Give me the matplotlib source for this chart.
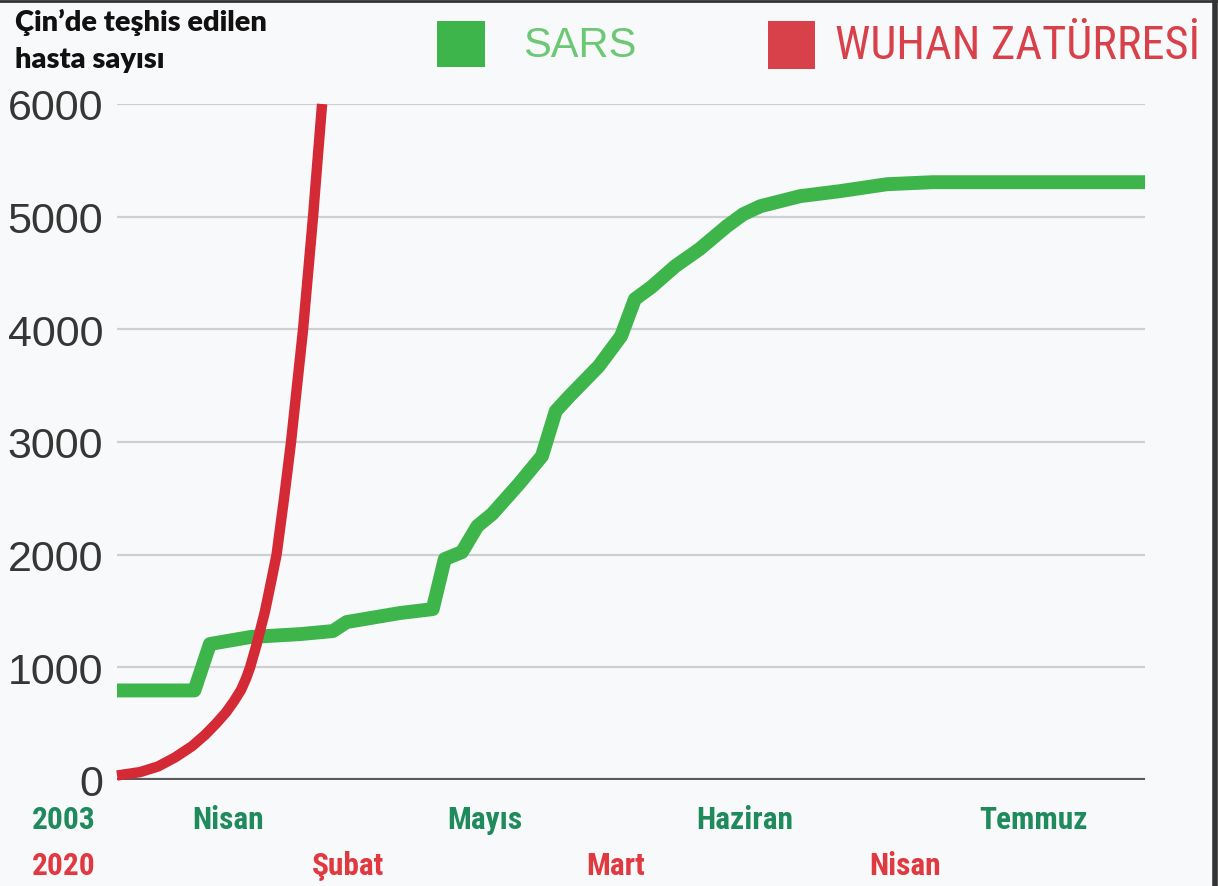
import matplotlib
matplotlib.use("Agg")
import matplotlib.pyplot as plt
from matplotlib.lines import Line2D
from matplotlib.patches import Rectangle
from matplotlib import font_manager as fm

# ---------------- data ----------------
sars_days = [0.0, 9.0, 10.8, 15.5, 21.3, 25.1, 26.7, 32.9, 36.7, 38.1, 40.1,
             41.9, 43.6, 46.7, 49.4, 51.0, 52.6, 56.0, 58.6, 60.2, 62.1, 64.9,
             67.7, 70.9, 72.8, 74.8, 79.4, 84.0, 89.5, 94.8, 102.6, 119.5]
sars_cases = [795, 795, 1207, 1269, 1295, 1322, 1402, 1482, 1517, 1961, 2023,
              2254, 2360, 2626, 2875, 3274, 3407, 3673, 3940, 4268, 4374, 4561,
              4711, 4916, 5022, 5093, 5182, 5226, 5288, 5306, 5306, 5306]

wuhan_days = [0.0, 2.67, 4.77, 6.74, 8.72, 10.23, 11.51, 12.67, 13.6, 14.42,
              15.0, 15.47, 16.22, 17.21, 18.02, 18.55, 19.42, 20.23, 20.93,
              21.63, 22.21, 22.79, 23.31, 23.84]
wuhan_cases = [40, 70, 120, 200, 300, 400, 500, 600, 700, 800,
               900, 1000, 1200, 1500, 1800, 2000, 2500, 3000, 3500,
               4000, 4500, 5000, 5500, 6000]

y_ticks = [0, 1000, 2000, 3000, 4000, 5000, 6000]

sars_tick_pos = [-6.2, 12.9, 42.8, 73.0, 106.5]
sars_tick_labels = ["2003", "Nisan", "Mayıs", "Haziran", "Temmuz"]
wuhan_tick_pos = [-6.2, 26.8, 58.0, 91.6]
wuhan_tick_labels = ["2020", "Şubat", "Mart", "Nisan"]

title_lines = ["Çin’de teşhis edilen", "hasta sayısı"]
legend_labels = ["SARS", "WUHAN ZATÜRRESİ"]

# ---------------- style ----------------
GREEN = "#3db54a"
RED = "#d42a36"
GREEN_TXT = "#1f8a5c"
RED_TXT = "#e0393f"
BG = "#f8f9fb"

names = {f.name for f in fm.fontManager.ttflist}


def pick(*cands):
    for c in cands:
        if c in names:
            return c
    return "DejaVu Sans"


narrow = pick("Roboto Condensed", "Liberation Sans Narrow", "Roboto")
helv = pick("Liberation Sans", "Roboto")
title_font = pick("Lato", "Roboto")

W, H = 1218, 887
fig = plt.figure(figsize=(W / 100, H / 100), dpi=100, facecolor=BG)
renderer = fig.canvas.get_renderer()


def fit(txt, width_px):
    bb = txt.get_window_extent(renderer=renderer)
    txt.set_fontsize(txt.get_fontsize() * width_px / bb.width)
    return txt.get_fontsize()


x0, x1 = 117, 1145
y0, y1 = 781, 105
ax = fig.add_axes([x0 / W, (H - y0) / H, (x1 - x0) / W, (y0 - y1) / H])
ax.set_facecolor(BG)
ax.set_xlim(0, 119.5)
ax.set_ylim(0, 6000)

for v in y_ticks[1:]:
    ax.axhline(v, color="#cfcfd2", lw=1.6, zorder=1)
ax.axhline(0, color="#5a5a5a", lw=3.0, zorder=1)

ax.plot(sars_days, sars_cases, color=GREEN, lw=10, solid_capstyle="butt",
        solid_joinstyle="round", zorder=3, clip_on=False)
ax.plot(wuhan_days, wuhan_cases, color=RED, lw=7.5, solid_capstyle="butt",
        solid_joinstyle="round", zorder=4, clip_on=False)

for s in ax.spines.values():
    s.set_visible(False)
ax.set_xticks([])
ax.set_yticks(y_ticks)
ax.set_yticklabels([str(v) for v in y_ticks], fontsize=31, color="#363636",
                   family=helv)
ax.tick_params(axis="y", length=0, pad=10)

# month labels: one common size, fitted on "Haziran"
trans = ax.get_xaxis_transform()
probe = ax.text(0, 0, "Haziran", fontsize=20, fontweight="bold", family=narrow)
lab_size = fit(probe, 97)
probe.remove()
for p, lab in zip(sars_tick_pos, sars_tick_labels):
    ax.text(p, -0.058, lab, transform=trans, ha="center", va="center",
            fontsize=lab_size, fontweight="bold", color=GREEN_TXT, family=narrow,
            clip_on=False)
for p, lab in zip(wuhan_tick_pos, wuhan_tick_labels):
    ax.text(p, -0.126, lab, transform=trans, ha="center", va="center",
            fontsize=lab_size, fontweight="bold", color=RED_TXT, family=narrow,
            clip_on=False)

# title
t1 = fig.text(15 / W, 1 - 22 / H, title_lines[0], ha="left", va="center",
              fontsize=20, fontweight="heavy", color="#111111", family=title_font)
fit(t1, 253)
t2 = fig.text(15 / W, 1 - 60 / H, title_lines[1], ha="left", va="center",
              fontsize=t1.get_fontsize(), fontweight="heavy", color="#111111",
              family=title_font)

# legend
fig.add_artist(Rectangle((437 / W, 1 - 68 / H), 48 / W, 46 / H,
                         transform=fig.transFigure, color=GREEN, lw=0))
fig.text(523 / W, 1 - 46 / H, legend_labels[0], ha="left", va="center",
         fontsize=30, color="#6cc874", family=helv)
fig.add_artist(Rectangle((768 / W, 1 - 70 / H), 47 / W, 48 / H,
                         transform=fig.transFigure, color="#d8414a", lw=0))
tw = fig.text(835 / W, 1 - 46 / H, legend_labels[1], ha="left", va="center",
              fontsize=30, color="#d8414a", family=narrow)
fit(tw, 365)

# frame edges of the scan
fig.add_artist(Line2D([0, 1], [1 - 1.5 / H, 1 - 1.5 / H], transform=fig.transFigure,
                      color="#333333", lw=2))
fig.add_artist(Line2D([1 - 3 / W, 1 - 3 / W], [0, 1], transform=fig.transFigure,
                      color="#333333", lw=4))

fig.savefig("out.png", dpi=100, facecolor=BG)
